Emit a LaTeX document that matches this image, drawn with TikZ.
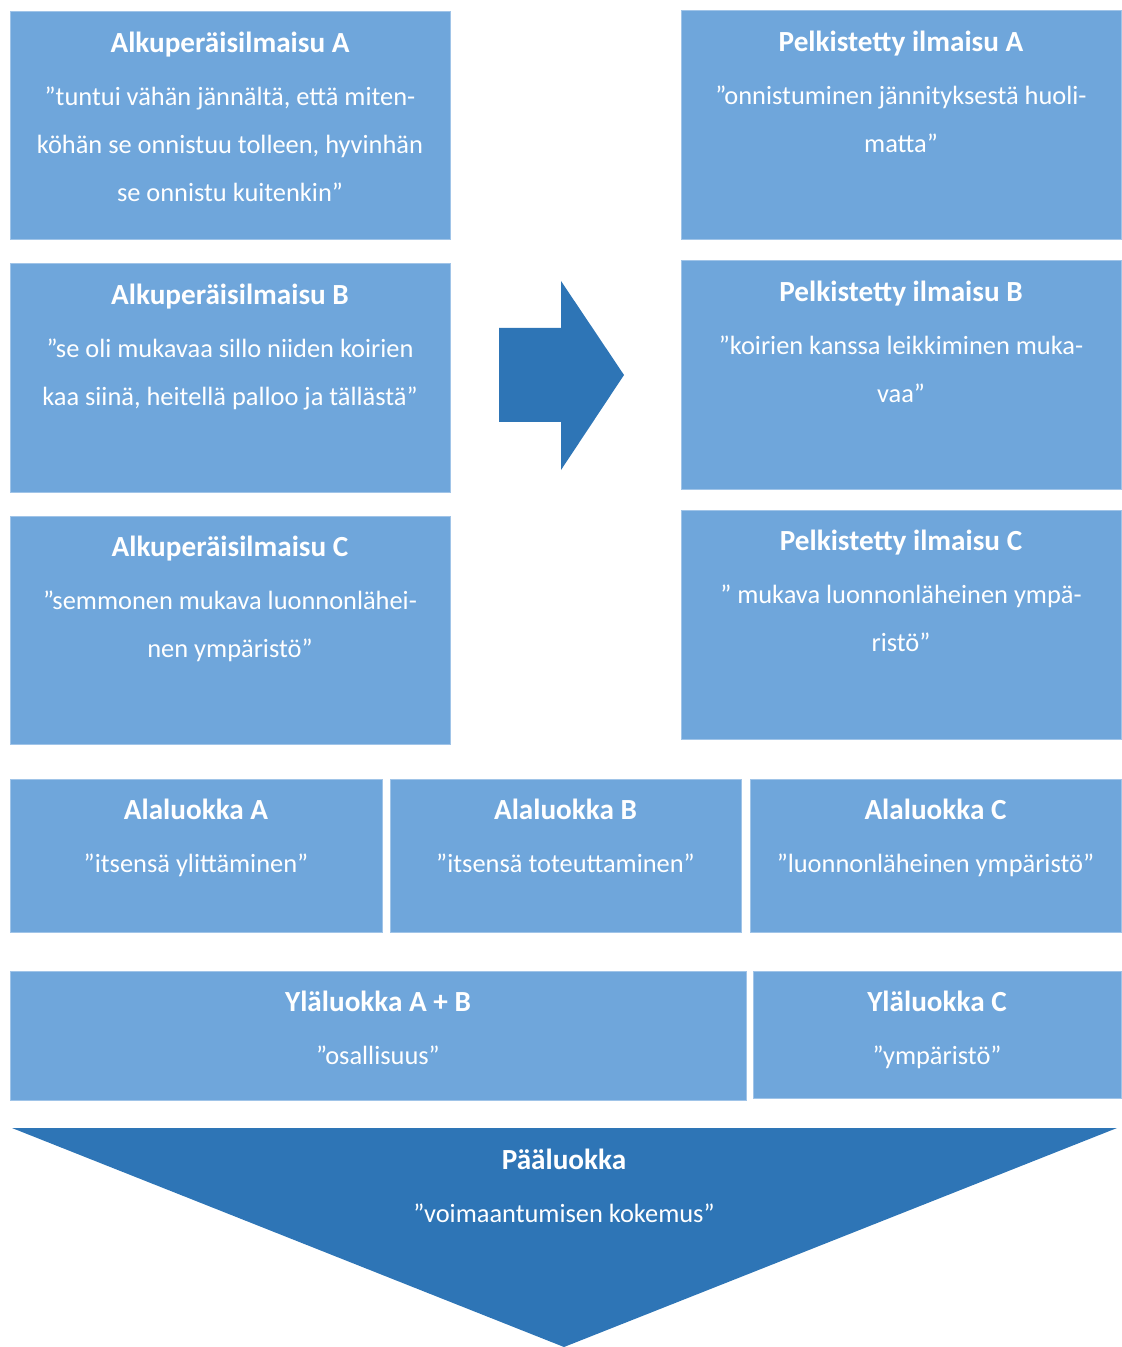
\documentclass[tikz,border=0pt]{standalone}
\usepackage{fontspec}
\setmainfont{Carlito}
\definecolor{vaalea}{RGB}{111,166,219}
\definecolor{reuna}{RGB}{160,196,232}
\definecolor{tumma}{RGB}{46,117,182}
\newcommand{\ylarivi}{\rule{0pt}{14pt}}
\newcommand{\otsikko}[1]{{\fontsize{14.6}{24}\selectfont\bfseries #1}}
\begin{document}
\begin{tikzpicture}[x=0.5pt, y=-0.5pt,
    box/.style={fill=vaalea, draw=reuna, line width=0.5pt},
    teksti/.style={anchor=north, inner sep=0pt, align=center, text=white,
      font=\fontsize{13.2}{24}\selectfont}]
  \useasboundingbox (0,0) rectangle (1121,1347);
  % alkuperaiset ilmaisut
  \draw[box] (10,12) rectangle (450,240);
  \node[teksti] (alkuA) at (230,24) {\ylarivi\otsikko{Alkuperäisilmaisu A}\\[2.5pt]
    ”tuntui vähän jännältä, että miten-\\köhän se onnistuu tolleen, hyvinhän\\se onnistu kuitenkin”};
  \draw[box] (10,264) rectangle (450,492);
  \node[teksti] (alkuB) at (230,276) {\ylarivi\otsikko{Alkuperäisilmaisu B}\\[2.5pt]
    ”se oli mukavaa sillo niiden koirien\\kaa siinä, heitellä palloo ja tällästä”};
  \draw[box] (10,516) rectangle (450,744);
  \node[teksti] (alkuC) at (230,528) {\ylarivi\otsikko{Alkuperäisilmaisu C}\\[2.5pt]
    ”semmonen mukava luonnonlähei-\\nen ympäristö”};
  % nuoli
  \fill[tumma] (499,328) -- (561,328) -- (561,281) -- (624,375) -- (561,470)
    -- (561,422) -- (499,422) -- cycle;
  % pelkistetyt ilmaisut
  \draw[box] (681,11) rectangle (1121,240);
  \node[teksti] (pelkA) at (901,23) {\ylarivi\otsikko{Pelkistetty ilmaisu A}\\[2.5pt]
    ”onnistuminen jännityksestä huoli-\\matta”};
  \draw[box] (681,261) rectangle (1121,489);
  \node[teksti] (pelkB) at (901,273) {\ylarivi\otsikko{Pelkistetty ilmaisu B}\\[2.5pt]
    ”koirien kanssa leikkiminen muka-\\vaa”};
  \draw[box] (681,510) rectangle (1121,739);
  \node[teksti] (pelkC) at (901,522) {\ylarivi\otsikko{Pelkistetty ilmaisu C}\\[2.5pt]
    ” mukava luonnonläheinen ympä-\\ristö”};
  % alaluokat
  \draw[box] (10,779) rectangle (382,932);
  \node[teksti] (alaA) at (196,791) {\ylarivi\otsikko{Alaluokka A}\\[2.5pt]
    ”itsensä ylittäminen”};
  \draw[box] (390,779) rectangle (741,932);
  \node[teksti] (alaB) at (565.5,791) {\ylarivi\otsikko{Alaluokka B}\\[2.5pt]
    ”itsensä toteuttaminen”};
  \draw[box] (750,779) rectangle (1121,932);
  \node[teksti] (alaC) at (935.5,791) {\ylarivi\otsikko{Alaluokka C}\\[2.5pt]
    ”luonnonläheinen ympäristö”};
  % ylaluokat
  \draw[box] (10,971) rectangle (746,1100);
  \node[teksti] (ylaAB) at (378,983) {\ylarivi\otsikko{Yläluokka A + B}\\[2.5pt]
    ”osallisuus”};
  \draw[box] (753,971) rectangle (1121,1098);
  \node[teksti] (ylaC) at (937,983) {\ylarivi\otsikko{Yläluokka C}\\[2.5pt]
    ”ympäristö”};
  % paaluokka
  \fill[tumma] (12,1128) -- (1117,1128) -- (564,1347) -- cycle;
  \node[teksti] (paa) at (564,1141) {\ylarivi\otsikko{Pääluokka}\\[2.5pt]
    ”voimaantumisen kokemus”};
\end{tikzpicture}
\end{document}
